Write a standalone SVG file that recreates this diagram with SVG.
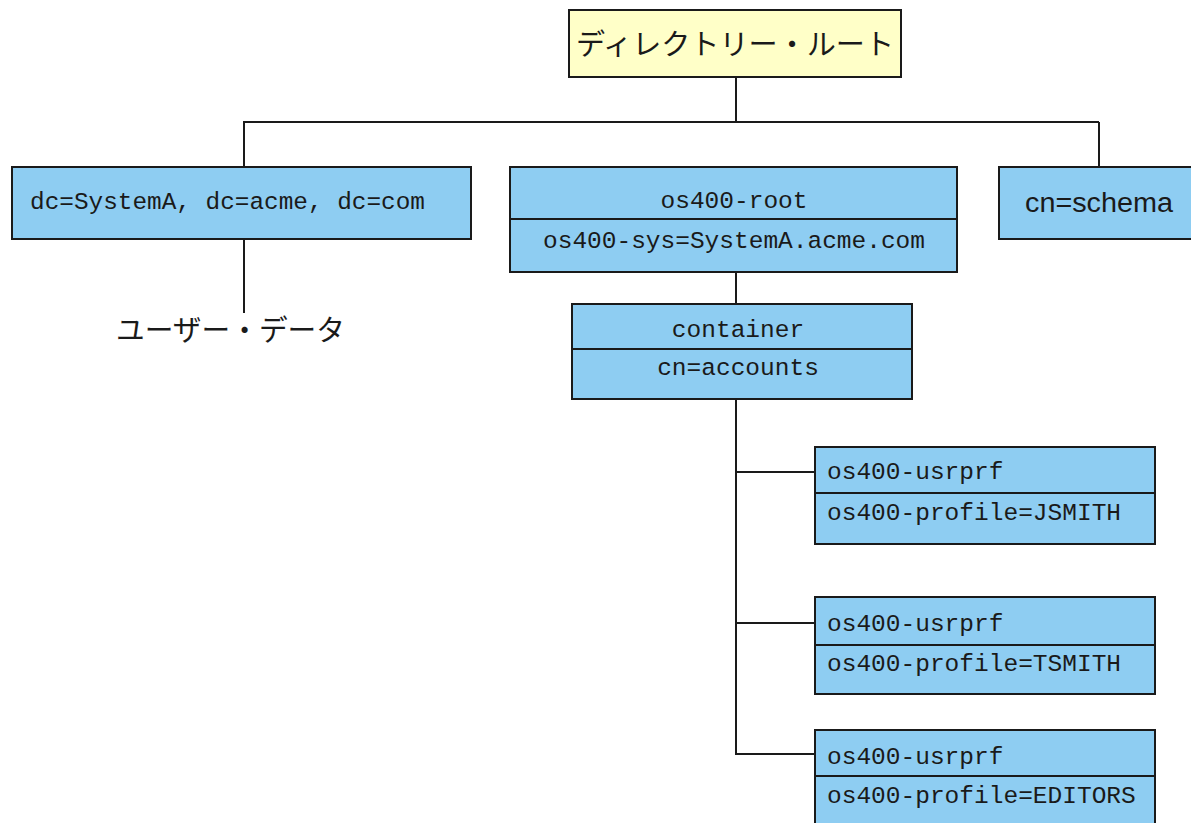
<svg xmlns="http://www.w3.org/2000/svg" width="1191" height="823" viewBox="0 0 1191 823">
<style>
.box{fill:#8ecdf2;stroke:#1a1a1a;stroke-width:2}
.root{fill:#ffffc8;stroke:#1a1a1a;stroke-width:2}
.div{stroke:#1a1a1a;stroke-width:2}
.mono{font-family:"Liberation Mono","Noto Sans CJK JP",monospace;font-size:24.5px;fill:#1a1a1a}
.jp{font-family:"Noto Sans CJK JP",sans-serif;font-size:29px;fill:#1a1a1a}
.sans{font-family:"Liberation Sans",Arial,sans-serif;font-size:27px;fill:#1a1a1a}
.mid{text-anchor:middle}
.conn{stroke:#1a1a1a;stroke-width:2;fill:none}
</style>
<rect width="1191" height="823" fill="#ffffff"/>
<g id="connectors">
<line class="conn" x1="736" y1="77" x2="736" y2="122"/>
<line class="conn" x1="243" y1="122" x2="1099" y2="122"/>
<line class="conn" x1="244" y1="122" x2="244" y2="167"/>
<line class="conn" x1="1099" y1="122" x2="1099" y2="167"/>
<line class="conn" x1="244" y1="239" x2="244" y2="313"/>
<line class="conn" x1="736" y1="272" x2="736" y2="304"/>
<line class="conn" x1="736" y1="399" x2="736" y2="755"/>
<line class="conn" x1="735" y1="472" x2="815" y2="472"/>
<line class="conn" x1="735" y1="623" x2="815" y2="623"/>
<line class="conn" x1="735" y1="754" x2="815" y2="754"/>
</g>
<g id="root">
<rect class="root" x="569" y="10" width="332" height="67"/>
<text class="jp mid" x="735" y="55" textLength="318" lengthAdjust="spacingAndGlyphs">ディレクトリー・ルート</text>
</g>
<g id="dc">
<rect class="box" x="12" y="167" width="459" height="72"/>
<text class="mono" x="30" y="209" textLength="395" lengthAdjust="spacingAndGlyphs">dc=SystemA, dc=acme, dc=com</text>
</g>
<g id="userdata">
<text class="jp" x="116" y="341" textLength="229" lengthAdjust="spacingAndGlyphs">ユーザー・データ</text>
</g>
<g id="os400root">
<rect class="box" x="510" y="167" width="447" height="105"/>
<line class="div" x1="510" y1="219" x2="957" y2="219"/>
<text class="mono mid" x="734" y="208">os400-root</text>
<text class="mono mid" x="734" y="248" textLength="382" lengthAdjust="spacingAndGlyphs">os400-sys=SystemA.acme.com</text>
</g>
<g id="schema">
<rect class="box" x="999" y="167" width="200" height="72"/>
<text class="sans" x="1025" y="212" textLength="148" lengthAdjust="spacingAndGlyphs">cn=schema</text>
</g>
<g id="container">
<rect class="box" x="572" y="304" width="340" height="95"/>
<line class="div" x1="572" y1="349" x2="912" y2="349"/>
<text class="mono mid" x="738" y="337">container</text>
<text class="mono mid" x="738" y="375">cn=accounts</text>
</g>
<g id="jsmith">
<rect class="box" x="815" y="447" width="340" height="97"/>
<line class="div" x1="815" y1="493" x2="1155" y2="493"/>
<text class="mono" x="827" y="479">os400-usrprf</text>
<text class="mono" x="827" y="520">os400-profile=JSMITH</text>
</g>
<g id="tsmith">
<rect class="box" x="815" y="597" width="340" height="97"/>
<line class="div" x1="815" y1="645" x2="1155" y2="645"/>
<text class="mono" x="827" y="631">os400-usrprf</text>
<text class="mono" x="827" y="671">os400-profile=TSMITH</text>
</g>
<g id="editors">
<rect class="box" x="815" y="730" width="340" height="110"/>
<line class="div" x1="815" y1="776" x2="1155" y2="776"/>
<text class="mono" x="827" y="764">os400-usrprf</text>
<text class="mono" x="827" y="803">os400-profile=EDITORS</text>
</g>
</svg>
